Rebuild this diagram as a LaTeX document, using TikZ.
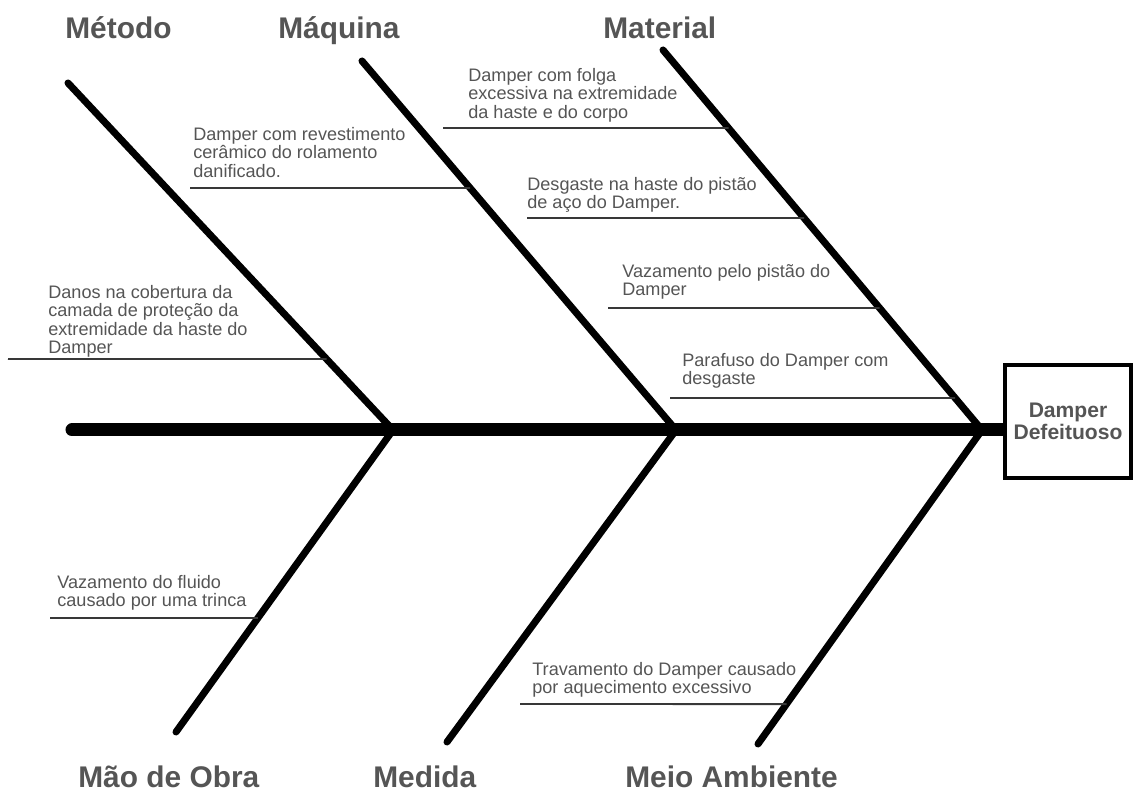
\documentclass[tikz,border=0pt]{standalone}
\usepackage{fontspec}
\setmainfont{Liberation Sans}
\definecolor{txt}{HTML}{555555}
\definecolor{twigc}{HTML}{383838}
\pgfdeclarelayer{background}
\pgfsetlayers{background,main}
\begin{document}
\begin{tikzpicture}[x=0.02cm,y=-0.02cm,
  bone/.style={line width=4pt,line cap=round},
  spine/.style={line width=7.4pt,line cap=round},
  twig/.style={line width=1.1pt,draw=twigc},
  cause/.style={anchor=north west,inner sep=0pt,align=left,text=txt,
    font=\fontsize{10.3}{10.4}\selectfont},
  cat/.style={anchor=base west,inner sep=0pt,text=txt,
    font=\fontsize{17}{20}\selectfont\bfseries},
  effect/.style={draw,line width=2.3pt,fill=white,minimum width=2.51cm,
    minimum height=2.26cm,inner sep=0pt,align=center,text=txt,
    font=\fontsize{12}{10.3}\selectfont\bfseries}
]
\useasboundingbox (0,0) rectangle (1134,793);

% effect box
\node[effect] (eff) at (1068,421.5) {Damper\\Defeituoso};

% spine
\coordinate (tail) at (72,430);
\begin{pgfonlayer}{background}
\draw[spine] (tail) -- (tail -| eff.west);
\end{pgfonlayer}

% junctions on spine
\coordinate (j1) at (393,430);
\coordinate (j2) at (676,430);
\coordinate (j3) at (982,430);

% bone ends
\coordinate (metTop) at (68,83);
\coordinate (maqTop) at (362,61);
\coordinate (matTop) at (663,50);
\coordinate (maoBot) at (176,732);
\coordinate (medBot) at (447,742);
\coordinate (meiBot) at (758,744);

\draw[bone] (metTop) -- (j1);
\draw[bone] (maqTop) -- (j2);
\draw[bone] (matTop) -- (j3);
\draw[bone] (maoBot) -- (j1);
\draw[bone] (medBot) -- (j2);
\draw[bone] (meiBot) -- (j3);

% category headings
\node[cat] (hMet) at (65,39) {Método};
\node[cat] (hMaq) at (278,39) {Máquina};
\node[cat] (hMat) at (603,39) {Material};
\node[cat] (hMao) at (78,788) {Mão de Obra};
\node[cat] (hMed) at (373,788) {Medida};
\node[cat] (hMei) at (625,788) {Meio Ambiente};

% causes
\node[cause] (c1) at (468,68) {Damper com folga\\excessiva na extremidade\\da haste e do corpo};
\node[cause] (c2) at (193,127) {Damper com revestimento\\cerâmico do rolamento\\danificado.};
\node[cause] (c3) at (527,177) {Desgaste na haste do pistão\\de aço do Damper.};
\node[cause] (c4) at (622,264) {Vazamento pelo pistão do\\Damper};
\node[cause] (c5) at (682,353) {Parafuso do Damper com\\desgaste};
\node[cause] (c6) at (48,285) {Danos na cobertura da\\camada de proteção da\\extremidade da haste do\\Damper};
\node[cause] (c7) at (57,575) {Vazamento do fluido\\causado por uma trinca};
\node[cause] (c8) at (532,662) {Travamento do Damper causado\\por aquecimento excessivo};

% twig start points and far helpers
\coordinate (s1) at (443,128);  \coordinate (r1) at (1100,128);
\coordinate (s2) at (190,188);  \coordinate (r2) at (1100,188);
\coordinate (s3) at (527,218);  \coordinate (r3) at (1100,218);
\coordinate (s4) at (608,308);  \coordinate (r4) at (1100,308);
\coordinate (s5) at (670,398);  \coordinate (r5) at (1100,398);
\coordinate (s6) at (8,359);    \coordinate (r6) at (1100,359);
\coordinate (s7) at (50,618);   \coordinate (r7) at (1100,618);
\coordinate (s8) at (520,704);  \coordinate (r8) at (1100,704);

\draw[twig] (s1) -- (intersection of s1--r1 and matTop--j3);
\draw[twig] (s2) -- (intersection of s2--r2 and maqTop--j2);
\draw[twig] (s3) -- (intersection of s3--r3 and matTop--j3);
\draw[twig] (s4) -- (intersection of s4--r4 and matTop--j3);
\draw[twig] (s5) -- (intersection of s5--r5 and matTop--j3);
\draw[twig] (s6) -- (intersection of s6--r6 and metTop--j1);
\draw[twig] (s7) -- (intersection of s7--r7 and maoBot--j1);
\draw[twig] (s8) -- (intersection of s8--r8 and meiBot--j3);
\end{tikzpicture}
\end{document}
